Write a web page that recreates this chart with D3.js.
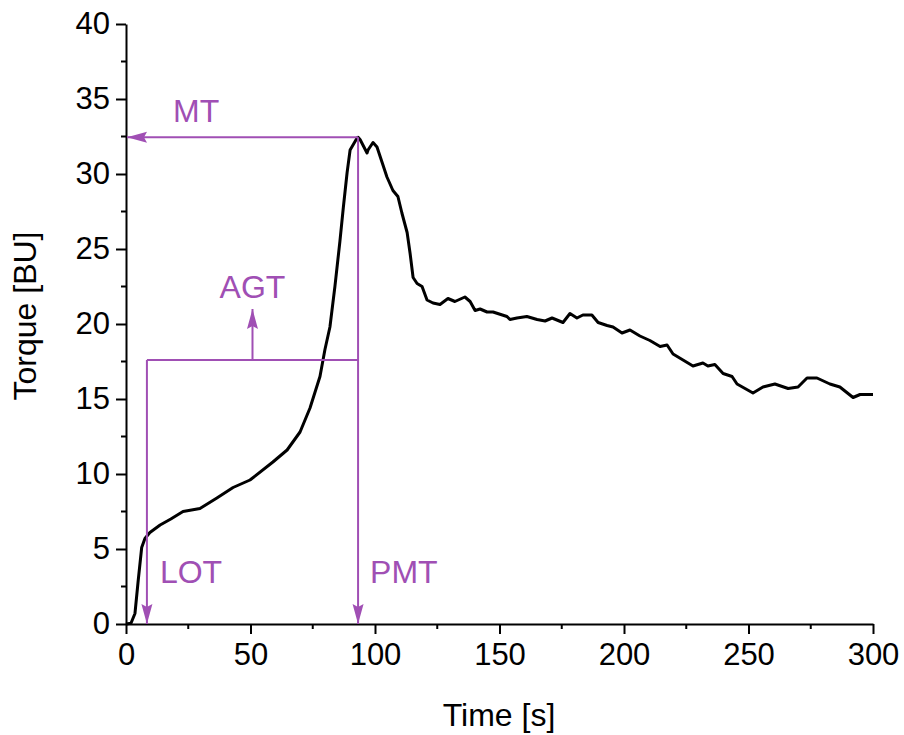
<!DOCTYPE html>
<html>
<head>
<meta charset="utf-8">
<script src="https://cdn.jsdelivr.net/npm/d3@7"></script>
<style>
  html, body { margin: 0; padding: 0; background: #fff; }
  svg { display: block; font-family: "Liberation Sans", Arial, sans-serif; }
</style>
</head>
<body>
<svg id="chart" width="904" height="735"></svg>
<script>
// ---- data ----
const timeValues = [0, 2.0, 3.6, 4.9, 6.3, 7.6, 9.6, 13.7, 18, 22.9, 29.7, 36.5, 43.0, 49.8, 59.0, 64.7, 69.9, 73.9, 77.9, 79.9, 81.9, 83.9, 85.1, 85.9, 87.3, 88.8, 90.0, 92.8, 93.2, 94.0, 96.8, 97.2, 99.2, 100.8, 102.8, 104.8, 107.2, 109.2, 110.8, 112.9, 114.1, 115.3, 116.9, 118.9, 120.9, 123.3, 126.1, 129.3, 132.1, 136.1, 138.2, 140.2, 142.2, 145.0, 147.4, 153.0, 154.2, 157.0, 161.0, 165.1, 168.3, 171.1, 175.5, 178.3, 181.1, 183.5, 187.1, 189.6, 193.2, 195.6, 199.2, 202.4, 206.4, 210.4, 214.5, 217.3, 219.7, 223.7, 227.7, 231.7, 233.7, 236.5, 239.8, 243.4, 245.4, 248.6, 251.8, 255.8, 260.6, 265.9, 269.9, 273.5, 277.5, 282.7, 286.7, 292.0, 294.8, 300];
const torqueValues = [0, 0.05, 0.7, 2.9, 5.1, 5.7, 6.1, 6.6, 7.0, 7.5, 7.7, 8.4, 9.1, 9.6, 10.8, 11.6, 12.8, 14.4, 16.5, 18.3, 19.8, 22.5, 24.3, 25.5, 27.8, 30.1, 31.6, 32.4, 32.45, 32.3, 31.4, 31.6, 32.1, 31.8, 30.8, 29.8, 28.9, 28.5, 27.4, 26.1, 24.7, 23.1, 22.7, 22.5, 21.6, 21.4, 21.3, 21.7, 21.5, 21.8, 21.5, 20.9, 21.0, 20.8, 20.8, 20.5, 20.3, 20.4, 20.5, 20.3, 20.2, 20.4, 20.1, 20.7, 20.4, 20.6, 20.6, 20.1, 19.9, 19.8, 19.4, 19.6, 19.2, 18.9, 18.5, 18.6, 18.0, 17.6, 17.2, 17.4, 17.2, 17.3, 16.7, 16.5, 16.0, 15.7, 15.4, 15.8, 16.0, 15.7, 15.8, 16.4, 16.4, 16.0, 15.8, 15.1, 15.3, 15.3];

const xTickValues = [0, 50, 100, 150, 200, 250, 300];
const yTickValues = [0, 5, 10, 15, 20, 25, 30, 35, 40];
const xMinorTicks = [25, 75, 125, 175, 225, 275];
const yMinorTicks = [2.5, 7.5, 12.5, 17.5, 22.5, 27.5, 32.5, 37.5];

// annotation values
const lotTime = 8.4;      // LOT
const pmtTime = 93.2;     // PMT
const mtTorque = 32.45;   // MT
const agtTorque = 17.6;   // AGT
const agtArrowTop = 21.0;
const annotationLabels = ["MT", "AGT", "LOT", "PMT"];

const xLabel = "Time [s]";
const yLabel = "Torque [BU]";

// ---- layout ----
const svg = d3.select("#chart");
const margin = {left: 126, right: 31, top: 24, bottom: 111};
const W = 904, H = 735;
const x = d3.scaleLinear().domain([0, 300]).range([margin.left, W - margin.right]);
const y = d3.scaleLinear().domain([0, 40]).range([H - margin.bottom, margin.top]);
const purple = "#a04fb4";
const tickFont = 31;

// axes
const xAxis = d3.axisBottom(x).tickValues(xTickValues).tickSize(10).tickSizeOuter(0).tickPadding(9).tickFormat(d3.format("d"));
const yAxis = d3.axisLeft(y).tickValues(yTickValues).tickSize(10).tickSizeOuter(0).tickPadding(6).tickFormat(d3.format("d"));

const gx = svg.append("g").attr("transform", `translate(0,${y(0)})`).call(xAxis);
const gy = svg.append("g").attr("transform", `translate(${x(0)},0)`).call(yAxis);

gx.append("g").selectAll("line").data(xMinorTicks).join("line")
  .attr("x1", d => x(d)).attr("x2", d => x(d)).attr("y1", 0).attr("y2", 5)
  .attr("stroke", "#000").attr("stroke-width", 2);
gy.append("g").selectAll("line").data(yMinorTicks).join("line")
  .attr("y1", d => y(d)).attr("y2", d => y(d)).attr("x1", 0).attr("x2", -5)
  .attr("stroke", "#000").attr("stroke-width", 2);

[gx, gy].forEach(g => {
  g.select(".domain").attr("stroke", "#000").attr("stroke-width", 2);
  g.selectAll(".tick line").attr("stroke", "#000").attr("stroke-width", 2);
  g.selectAll(".tick text").attr("fill", "#000").style("font-size", tickFont + "px")
    .style("font-family", '"Liberation Sans", Arial, sans-serif');
});

// axis titles
svg.append("text").attr("x", 499).attr("y", 726).attr("text-anchor", "middle")
  .style("font-size", "32px").text(xLabel);
svg.append("text").attr("transform", `translate(36,${316}) rotate(-90)`).attr("text-anchor", "middle")
  .style("font-size", "32px").text(yLabel);

// arrow marker
const defs = svg.append("defs");
defs.append("marker").attr("id", "arrow").attr("markerUnits", "userSpaceOnUse")
  .attr("viewBox", "-22 -7 24 14").attr("refX", 0).attr("refY", 0)
  .attr("markerWidth", 24).attr("markerHeight", 14).attr("orient", "auto")
  .append("path").attr("d", "M0,0 L-20,-5.5 L-17,0 L-20,5.5 Z").attr("fill", purple);

// curve
const pts = timeValues.map((t, i) => [t, torqueValues[i]]);
svg.append("path").datum(pts)
  .attr("d", d3.line().x(d => x(d[0])).y(d => y(d[1])))
  .attr("fill", "none").attr("stroke", "#000").attr("stroke-width", 3)
  .attr("stroke-linejoin", "round");

// annotations
const ann = svg.append("g").attr("stroke", purple).attr("stroke-width", 2).attr("fill", "none");
// MT horizontal arrow to axis
ann.append("line").attr("x1", x(pmtTime)).attr("y1", y(mtTorque)).attr("x2", x(0) + 1).attr("y2", y(mtTorque))
  .attr("marker-end", "url(#arrow)");
// PMT vertical arrow
ann.append("line").attr("x1", x(pmtTime)).attr("y1", y(mtTorque)).attr("x2", x(pmtTime)).attr("y2", y(0))
  .attr("marker-end", "url(#arrow)");
// LOT vertical arrow
ann.append("line").attr("x1", x(lotTime)).attr("y1", y(agtTorque)).attr("x2", x(lotTime)).attr("y2", y(0))
  .attr("marker-end", "url(#arrow)");
// AGT horizontal line
ann.append("line").attr("x1", x(lotTime)).attr("y1", y(agtTorque)).attr("x2", x(pmtTime)).attr("y2", y(agtTorque));
// AGT arrow up
const agtMid = (lotTime + pmtTime) / 2;
ann.append("line").attr("x1", x(agtMid)).attr("y1", y(agtTorque)).attr("x2", x(agtMid)).attr("y2", y(agtArrowTop))
  .attr("marker-end", "url(#arrow)");

const labels = svg.append("g").attr("fill", purple).style("font-size", "32px");
labels.append("text").attr("x", x(18.9)).attr("y", y(mtTorque) - 15).text(annotationLabels[0]);
labels.append("text").attr("x", x(agtMid)).attr("y", y(agtArrowTop) - 11).attr("text-anchor", "middle").text(annotationLabels[1]);
labels.append("text").attr("x", x(lotTime) + 13).attr("y", y(2.75)).text(annotationLabels[2]);
labels.append("text").attr("x", x(pmtTime) + 12).attr("y", y(2.75)).text(annotationLabels[3]);
</script>
</body>
</html>
